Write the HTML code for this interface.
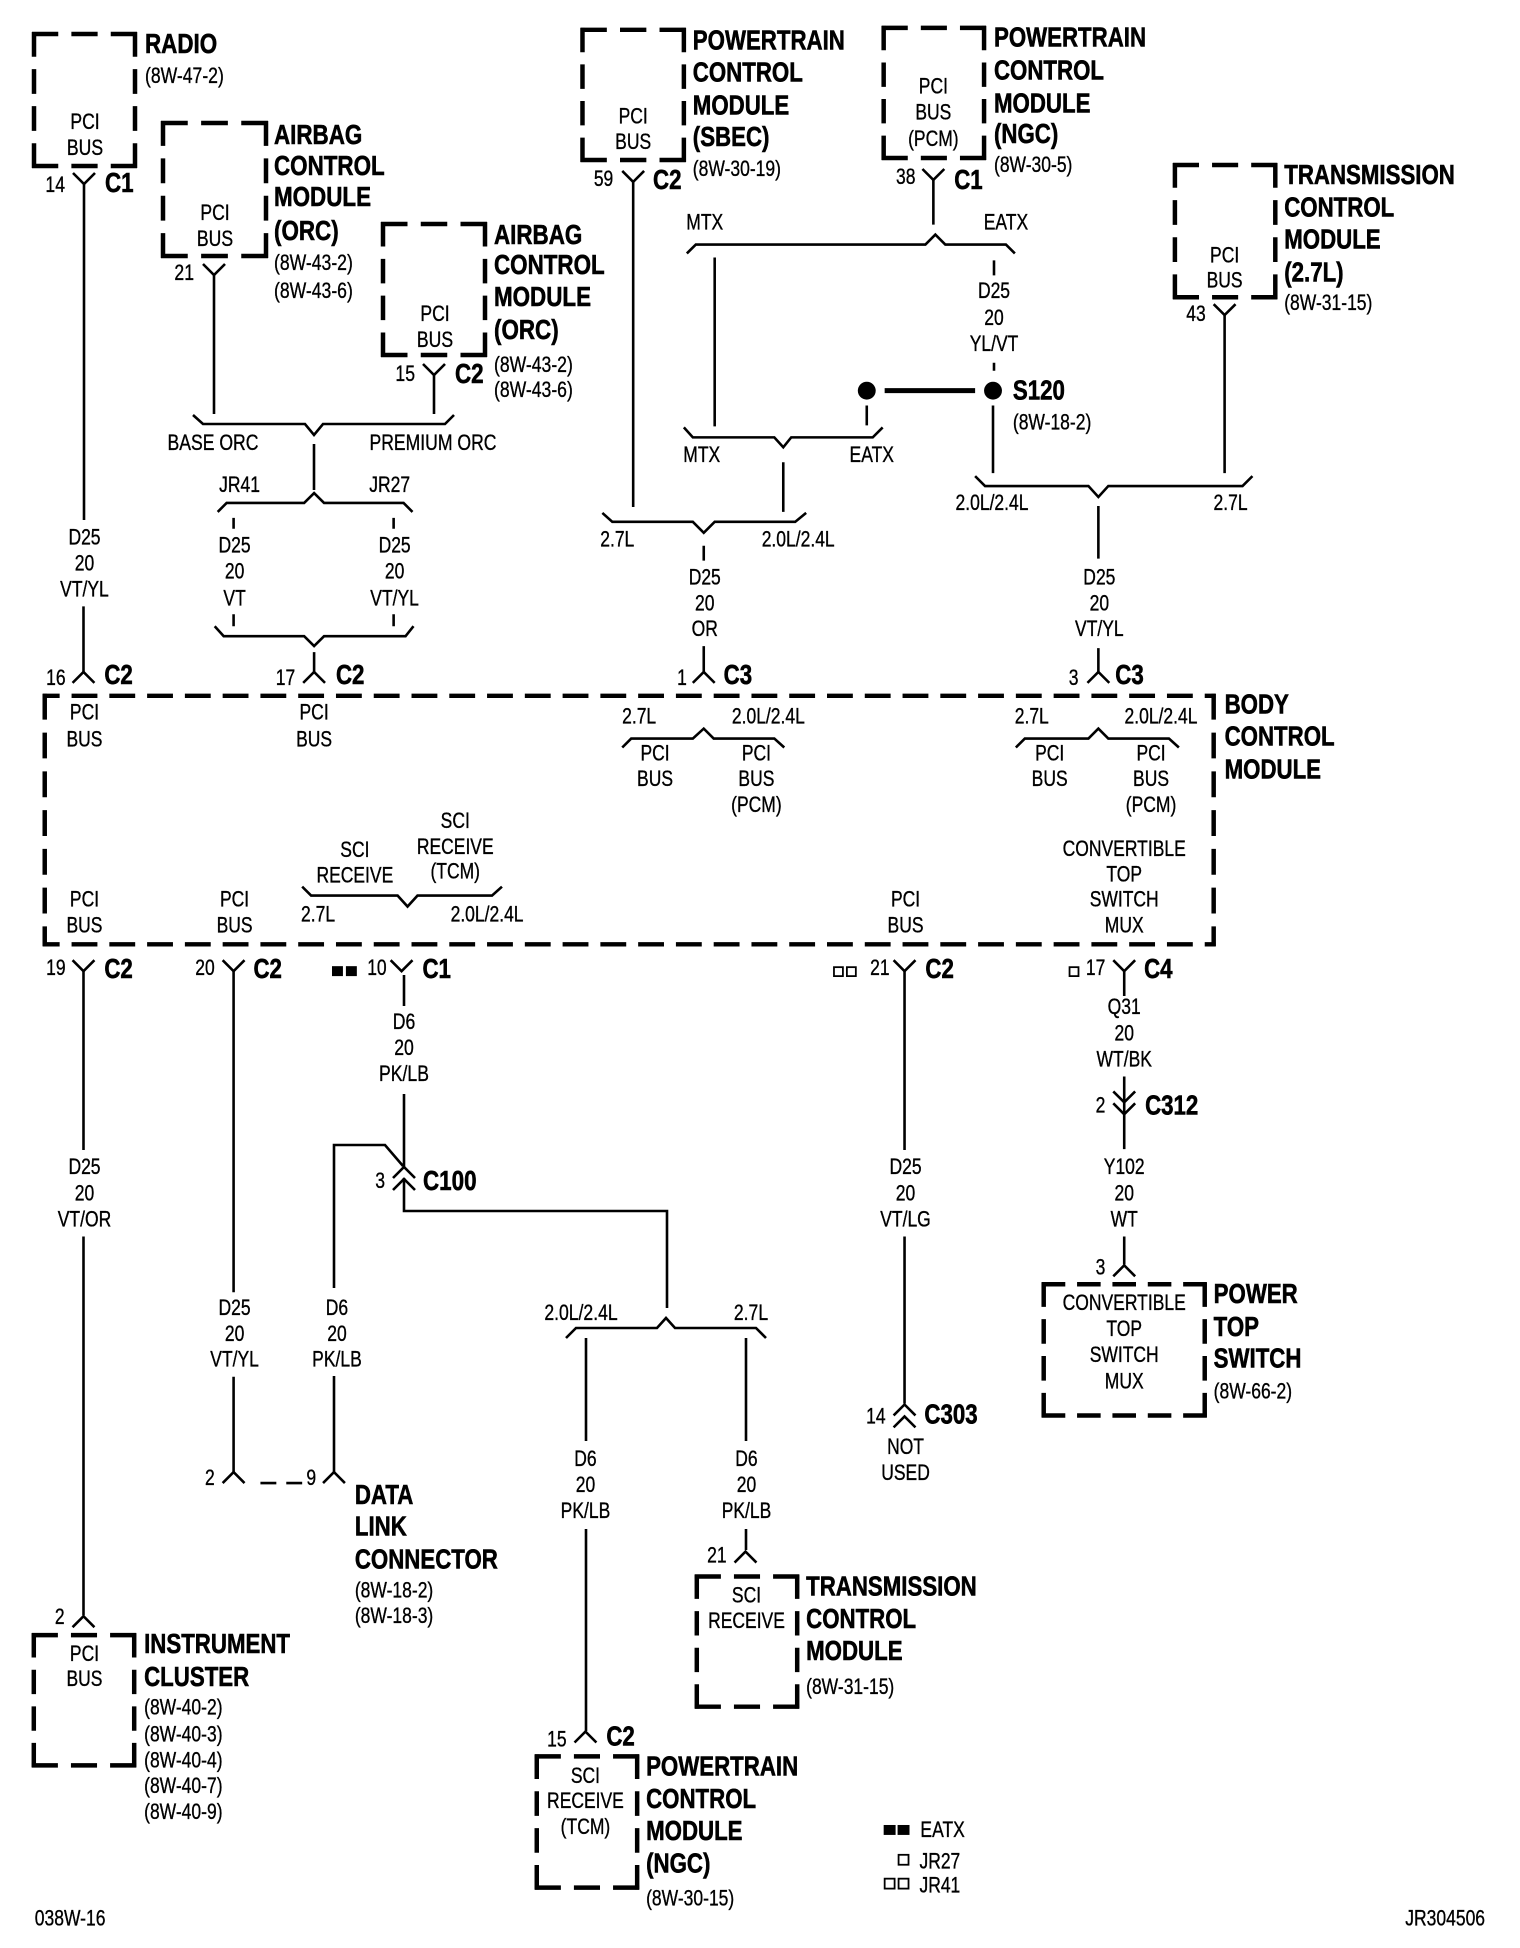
<!DOCTYPE html>
<html><head><meta charset="utf-8"><title>Wiring diagram</title>
<style>
html,body{margin:0;padding:0;background:#fff}
svg{display:block}
text{font-family:"Liberation Sans",Arial,sans-serif;fill:#000;stroke:#000;stroke-width:.35;font-size:22px;text-anchor:middle;transform-box:fill-box;transform-origin:50% 50%;transform:scaleX(.8)}
text.b{font-weight:bold;font-size:28px;stroke-width:.6}
text.l{text-anchor:start;transform-origin:0% 50%}
text.r{text-anchor:end;transform-origin:100% 50%}
.w{fill:none;stroke:#000;stroke-width:2.6}
.d{fill:none;stroke:#000;stroke-width:4.5}
</style></head><body>
<svg xmlns="http://www.w3.org/2000/svg" width="1520" height="1948" viewBox="0 0 1520 1948">
<rect width="1520" height="1948" fill="#fff"/>

<!-- GROUP A: true coordinates -->
<g>
<g class="d" stroke-dasharray="2 1">
<path pathLength="8" d="M32 34H137"/><path pathLength="8" d="M32 166H137"/><path pathLength="11" d="M34 32V168"/><path pathLength="11" d="M135 32V168"/>
<path pathLength="8" d="M161 123H268"/><path pathLength="8" d="M161 256H268"/><path pathLength="11" d="M163 121V258"/><path pathLength="11" d="M266 121V258"/>
<path pathLength="8" d="M381 224H487"/><path pathLength="8" d="M381 355H487"/><path pathLength="11" d="M383 222V357"/><path pathLength="11" d="M485 222V357"/>
</g>
<path class="w" d="
M84 183V520
M214 275V414
M434 375V414
M314 444V490
M404 975V1006M404 1094V1168
M334 1288V1145H385L403 1166
M334 1376V1472
M404 1178V1211H667V1308
M586 1338V1441M586 1529V1731
M746 1338V1441M746 1529V1550
"/>
<path class="w" d="
M193 415L203 424H305L314 435L323 424H445L454 415
M566 1338L576 1328H657L666 1318L675 1328H756L766 1338
M73 173L84 184L95 173
M203 264L214 275L225 264
M423 364L434 375L445 364
M393 1178L404 1167L415 1178M393 1190L404 1179L415 1190
"/>
<text class="b l" x="145" y="53">RADIO</text>
<text class="l" x="145" y="83">(8W-47-2)</text>
<text x="85" y="129">PCI</text><text x="85" y="155">BUS</text>
<text class="r" x="65" y="192">14</text>
<text class="b l" x="105" y="192">C1</text>

<text class="b l" x="274" y="144">AIRBAG</text><text class="b l" x="274" y="175">CONTROL</text><text class="b l" x="274" y="206">MODULE</text><text class="b l" x="274" y="240">(ORC)</text>
<text class="l" x="274" y="270">(8W-43-2)</text><text class="l" x="274" y="298">(8W-43-6)</text>
<text x="215" y="220">PCI</text><text x="215" y="246">BUS</text>
<text class="r" x="194" y="280">21</text>

<text class="b l" x="494" y="244">AIRBAG</text><text class="b l" x="494" y="274">CONTROL</text><text class="b l" x="494" y="306">MODULE</text><text class="b l" x="494" y="339">(ORC)</text>
<text class="l" x="494" y="372">(8W-43-2)</text><text class="l" x="494" y="397">(8W-43-6)</text>
<text x="435" y="321">PCI</text><text x="435" y="347">BUS</text>
<text class="r" x="415" y="381">15</text>
<text class="b l" x="455" y="383">C2</text>
<text x="213" y="450">BASE ORC</text><text x="433" y="450">PREMIUM ORC</text>

<text x="404" y="1029">D6</text><text x="404" y="1055">20</text><text x="404" y="1081">PK/LB</text>
<text class="r" x="385" y="1188">3</text>
<text class="b l" x="423" y="1190">C100</text>
<text x="581" y="1320">2.0L/2.4L</text><text x="751" y="1320">2.7L</text>
</g>

<!-- GROUP B: scaled coordinates -->
<g transform="scale(.994)">
<g class="d" stroke-dasharray="2 1">
<path pathLength="8" d="M584 30H690"/><path pathLength="8" d="M584 161H690"/><path pathLength="11" d="M586 28V163"/><path pathLength="11" d="M688 28V163"/>
<path pathLength="8" d="M887 28H992"/><path pathLength="8" d="M887 159H992"/><path pathLength="11" d="M889 26V161"/><path pathLength="11" d="M990 26V161"/>
<path pathLength="8" d="M1180 166H1285"/><path pathLength="8" d="M1180 299H1285"/><path pathLength="11" d="M1182 164V301"/><path pathLength="11" d="M1283 164V301"/>
<path pathLength="14" d="M1048 1292H1214"/><path pathLength="14" d="M1048 1424H1214"/><path pathLength="11" d="M1050 1290V1426"/><path pathLength="11" d="M1212 1290V1426"/>
<path pathLength="8" d="M699 1586H804"/><path pathLength="8" d="M699 1717H804"/><path pathLength="11" d="M701 1584V1719"/><path pathLength="11" d="M802 1584V1719"/>
<path pathLength="8" d="M538 1767H643"/><path pathLength="8" d="M538 1899H643"/><path pathLength="11" d="M540 1765V1901"/><path pathLength="11" d="M641 1765V1901"/>
<path pathLength="8" d="M32 1645H137"/><path pathLength="8" d="M32 1776H137"/><path pathLength="11" d="M34 1643V1778"/><path pathLength="11" d="M135 1643V1778"/>
</g>
<g class="d">
<path stroke-dasharray="26 12" stroke-dashoffset="9" d="M43 700H1223"/>
<path stroke-dasharray="26 12" stroke-dashoffset="9" d="M43 950H1223"/>
<path stroke-dasharray="26 13" d="M45 698V952"/>
<path stroke-dasharray="26 13" d="M1221 698V952"/>
</g>

<path class="w" d="
M84 610V676
M235 521V532M235 618V630
M396 521V532M396 618V630
M316 656V676
M637 183V510
M939 180V226
M719 259V429
M1000 262V277M1000 365V373
M872 408V428
M999 408V476
M788 465V515
M708 549V564M708 650V676
M1105 509V562M1105 652V676
M1232 317V476
M84 977V1157M84 1244V1625
M235 977V1300M235 1385V1481
M910 977V1157M910 1244V1412
M1131 977V1002M1131 1083V1122M1131 1122V1156M1131 1244V1272
"/>
<path class="w" d="
M219 515L228 506H306L316 496L326 506H406L415 515
M216 630L225 640H306L316 650L326 640H408L416 630
M691 255L700 246H931L941 236L951 246H1012L1021 255
M688 430L697 440H779L788 450L796 440H878L888 430
M606 516L616 525H697L708 536L719 525H800L811 516
M981 479L991 489H1095L1105 500L1115 489H1250L1260 479
M626 752L635 743H697L708 733L718 743H779L789 752
M1022 752L1031 743H1095L1105 733L1115 743H1176L1186 752
M304 892L313 901H400L410 912L420 901H495L505 892
"/>
<path class="w" d="
M626 172L637 183L648 172
M928 170L939 181L950 170
M1221 306L1232 317L1243 306
M73 687L84 676L95 687
M305 687L316 676L327 687
M697 687L708 676L719 687
M1094 687L1105 676L1116 687
M73 966L84 977L95 966
M224 966L235 977L246 966
M393 966L404 977L415 966
M899 966L910 977L921 966
M1120 966L1131 977L1142 966
M1120 1098L1131 1109L1142 1098M1120 1110L1131 1121L1142 1110
M1120 1284L1131 1273L1142 1284
M899 1424L910 1413L921 1424M899 1436L910 1425L921 1436
M224 1492L235 1481L246 1492
M325 1492L336 1481L347 1492
M739 1572L750 1561L761 1572
M578 1753L589 1742L600 1753
M73 1637L84 1626L95 1637
"/>
<path class="w" stroke-dasharray="16 10" d="M262 1492H306"/>
<circle cx="872" cy="393" r="9"/><circle cx="999" cy="393" r="9"/>
<path d="M890 393H981" stroke="#000" stroke-width="5" fill="none"/>
<rect x="334" y="972" width="11" height="10"/><rect x="348" y="972" width="11" height="10"/>
<rect x="889" y="1836" width="12" height="10"/><rect x="903" y="1836" width="12" height="10"/>
<g fill="none" stroke="#000" stroke-width="1.8">
<rect x="839" y="973" width="9" height="9"/><rect x="852" y="973" width="9" height="9"/>
<rect x="1076" y="973" width="9" height="9"/>
<rect x="904" y="1866" width="10" height="10"/>
<rect x="890" y="1890" width="10" height="10"/><rect x="904" y="1890" width="10" height="10"/>
</g>

<text class="b l" x="697" y="50">POWERTRAIN</text><text class="b l" x="697" y="82">CONTROL</text><text class="b l" x="697" y="115">MODULE</text><text class="b l" x="697" y="147">(SBEC)</text>
<text class="b l" x="1000" y="47">POWERTRAIN</text><text class="b l" x="1000" y="80">CONTROL</text><text class="b l" x="1000" y="113">MODULE</text><text class="b l" x="1000" y="144">(NGC)</text>
<text class="b l" x="1292" y="185">TRANSMISSION</text><text class="b l" x="1292" y="218">CONTROL</text><text class="b l" x="1292" y="250">MODULE</text><text class="b l" x="1292" y="283">(2.7L)</text>
<text class="b l" x="1232" y="718">BODY</text><text class="b l" x="1232" y="750">CONTROL</text><text class="b l" x="1232" y="783">MODULE</text>
<text class="b l" x="1221" y="1311">POWER</text><text class="b l" x="1221" y="1344">TOP</text><text class="b l" x="1221" y="1376">SWITCH</text>
<text class="b l" x="357" y="1513">DATA</text><text class="b l" x="357" y="1545">LINK</text><text class="b l" x="357" y="1578">CONNECTOR</text>
<text class="b l" x="145" y="1663">INSTRUMENT</text><text class="b l" x="145" y="1696">CLUSTER</text>
<text class="b l" x="811" y="1605">TRANSMISSION</text><text class="b l" x="811" y="1638">CONTROL</text><text class="b l" x="811" y="1670">MODULE</text>
<text class="b l" x="650" y="1786">POWERTRAIN</text><text class="b l" x="650" y="1819">CONTROL</text><text class="b l" x="650" y="1851">MODULE</text><text class="b l" x="650" y="1884">(NGC)</text>
<text class="b l" x="1019" y="402">S120</text>
<text class="b l" x="657" y="190">C2</text>
<text class="b l" x="960" y="190">C1</text>
<text class="b l" x="105" y="688">C2</text>
<text class="b l" x="338" y="688">C2</text>
<text class="b l" x="728" y="688">C3</text>
<text class="b l" x="1122" y="688">C3</text>
<text class="b l" x="105" y="984">C2</text>
<text class="b l" x="255" y="984">C2</text>
<text class="b l" x="425" y="984">C1</text>
<text class="b l" x="931" y="984">C2</text>
<text class="b l" x="1151" y="984">C4</text>
<text class="b l" x="1152" y="1121">C312</text>
<text class="b l" x="930" y="1432">C303</text>
<text class="b l" x="610" y="1756">C2</text>

<text class="l" x="697" y="177">(8W-30-19)</text>
<text class="l" x="1000" y="173">(8W-30-5)</text>
<text class="l" x="1292" y="312">(8W-31-15)</text>
<text class="l" x="1019" y="432">(8W-18-2)</text>
<text class="l" x="1221" y="1407">(8W-66-2)</text>
<text class="l" x="357" y="1607">(8W-18-2)</text><text class="l" x="357" y="1633">(8W-18-3)</text>
<text class="l" x="145" y="1725">(8W-40-2)</text><text class="l" x="145" y="1752">(8W-40-3)</text><text class="l" x="145" y="1778">(8W-40-4)</text><text class="l" x="145" y="1804">(8W-40-7)</text><text class="l" x="145" y="1830">(8W-40-9)</text>
<text class="l" x="811" y="1704">(8W-31-15)</text>
<text class="l" x="650" y="1917">(8W-30-15)</text>

<text class="r" x="617" y="187">59</text>
<text class="r" x="921" y="185">38</text>
<text class="r" x="1213" y="323">43</text>
<text class="r" x="66" y="689">16</text>
<text class="r" x="297" y="689">17</text>
<text class="r" x="691" y="689">1</text>
<text class="r" x="1085" y="689">3</text>
<text class="r" x="66" y="981">19</text>
<text class="r" x="216" y="981">20</text>
<text class="r" x="389" y="981">10</text>
<text class="r" x="895" y="981">21</text>
<text class="r" x="1112" y="981">17</text>
<text class="r" x="1112" y="1119">2</text>
<text class="r" x="1112" y="1282">3</text>
<text class="r" x="891" y="1432">14</text>
<text class="r" x="216" y="1494">2</text>
<text class="r" x="318" y="1494">9</text>
<text class="r" x="65" y="1634">2</text>
<text class="r" x="731" y="1572">21</text>
<text class="r" x="570" y="1757">15</text>

<text x="637" y="124">PCI</text><text x="637" y="150">BUS</text>
<text x="939" y="94">PCI</text><text x="939" y="120">BUS</text><text x="939" y="147">(PCM)</text>
<text x="1232" y="264">PCI</text><text x="1232" y="289">BUS</text>
<text x="85" y="724">PCI</text><text x="85" y="751">BUS</text>
<text x="316" y="724">PCI</text><text x="316" y="751">BUS</text>
<text x="659" y="765">PCI</text><text x="659" y="791">BUS</text>
<text x="761" y="765">PCI</text><text x="761" y="791">BUS</text><text x="761" y="817">(PCM)</text>
<text x="1056" y="765">PCI</text><text x="1056" y="791">BUS</text>
<text x="1158" y="765">PCI</text><text x="1158" y="791">BUS</text><text x="1158" y="817">(PCM)</text>
<text x="85" y="912">PCI</text><text x="85" y="938">BUS</text>
<text x="236" y="912">PCI</text><text x="236" y="938">BUS</text>
<text x="911" y="912">PCI</text><text x="911" y="938">BUS</text>
<text x="1131" y="861">CONVERTIBLE</text><text x="1131" y="887">TOP</text><text x="1131" y="912">SWITCH</text><text x="1131" y="938">MUX</text>
<text x="357" y="862">SCI</text><text x="357" y="888">RECEIVE</text>
<text x="458" y="833">SCI</text><text x="458" y="859">RECEIVE</text><text x="458" y="884">(TCM)</text>
<text x="1131" y="1318">CONVERTIBLE</text><text x="1131" y="1344">TOP</text><text x="1131" y="1370">SWITCH</text><text x="1131" y="1397">MUX</text>
<text x="751" y="1612">SCI</text><text x="751" y="1638">RECEIVE</text>
<text x="589" y="1794">SCI</text><text x="589" y="1819">RECEIVE</text><text x="589" y="1845">(TCM)</text>
<text x="85" y="1671">PCI</text><text x="85" y="1696">BUS</text>

<text x="241" y="495">JR41</text><text x="392" y="495">JR27</text>
<text x="709" y="231">MTX</text><text x="1012" y="231">EATX</text>
<text x="706" y="465">MTX</text><text x="877" y="465">EATX</text>
<text x="621" y="550">2.7L</text><text x="803" y="550">2.0L/2.4L</text>
<text x="998" y="513">2.0L/2.4L</text><text x="1238" y="513">2.7L</text>
<text x="643" y="728">2.7L</text><text x="773" y="728">2.0L/2.4L</text>
<text x="1038" y="728">2.7L</text><text x="1168" y="728">2.0L/2.4L</text>
<text x="320" y="927">2.7L</text><text x="490" y="927">2.0L/2.4L</text>

<text x="85" y="548">D25</text><text x="85" y="574">20</text><text x="85" y="600">VT/YL</text>
<text x="236" y="556">D25</text><text x="236" y="582">20</text><text x="236" y="609">VT</text>
<text x="397" y="556">D25</text><text x="397" y="582">20</text><text x="397" y="609">VT/YL</text>
<text x="709" y="588">D25</text><text x="709" y="614">20</text><text x="709" y="640">OR</text>
<text x="1106" y="588">D25</text><text x="1106" y="614">20</text><text x="1106" y="640">VT/YL</text>
<text x="1000" y="300">D25</text><text x="1000" y="327">20</text><text x="1000" y="353">YL/VT</text>
<text x="85" y="1181">D25</text><text x="85" y="1208">20</text><text x="85" y="1234">VT/OR</text>
<text x="236" y="1323">D25</text><text x="236" y="1349">20</text><text x="236" y="1375">VT/YL</text>
<text x="339" y="1323">D6</text><text x="339" y="1349">20</text><text x="339" y="1375">PK/LB</text>
<text x="589" y="1475">D6</text><text x="589" y="1501">20</text><text x="589" y="1527">PK/LB</text>
<text x="751" y="1475">D6</text><text x="751" y="1501">20</text><text x="751" y="1527">PK/LB</text>
<text x="911" y="1181">D25</text><text x="911" y="1208">20</text><text x="911" y="1234">VT/LG</text>
<text x="1131" y="1020">Q31</text><text x="1131" y="1047">20</text><text x="1131" y="1073">WT/BK</text>
<text x="1131" y="1181">Y102</text><text x="1131" y="1208">20</text><text x="1131" y="1234">WT</text>
<text x="911" y="1463">NOT</text><text x="911" y="1489">USED</text>

<text class="l" x="926" y="1848">EATX</text>
<text class="l" x="925" y="1880">JR27</text>
<text class="l" x="925" y="1904">JR41</text>
<text class="l" x="35" y="1937">038W-16</text>
<text class="r" x="1494" y="1937">JR304506</text>
</g>
</svg>
</body></html>
